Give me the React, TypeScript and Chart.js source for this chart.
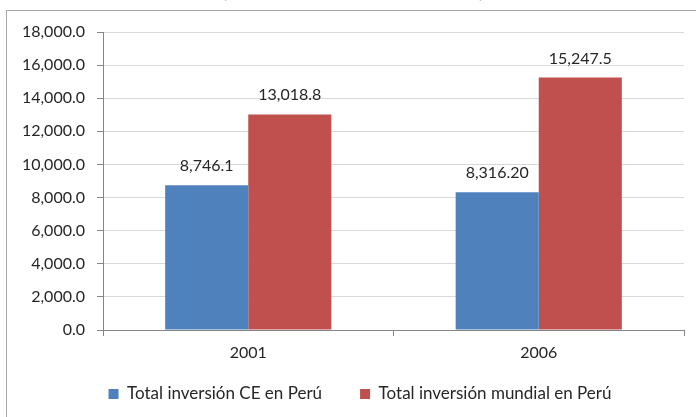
import React, { useEffect, useRef } from "react";
import { Chart, registerables } from "chart.js";

Chart.register(...registerables);

const categories = ["2001", "2006"];
const seriesNames = ["Total inversión CE en Perú", "Total inversión mundial en Perú"];
const ceValues = [8746.1, 8316.2];
const worldValues = [13018.8, 15247.5];
const ceLabels = ["8,746.1", "8,316.20"];
const worldLabels = ["13,018.8", "15,247.5"];
const yMin = 0;
const yMax = 18000;
const yStep = 2000;

const FONT = "Lato";
const TEXT = "#262626";
const LEGEND_PAD = 38;
const LEGEND_FONT = 17;

const valueLabelPlugin = {
  id: "valueLabels",
  afterDatasetsDraw(chart: any) {
    const ctx = chart.ctx;
    const all = [ceLabels, worldLabels];
    ctx.save();
    ctx.font = `16px ${FONT}`;
    ctx.fillStyle = TEXT;
    ctx.textAlign = "center";
    ctx.textBaseline = "alphabetic";
    chart.data.datasets.forEach((_d: any, di: number) => {
      const meta = chart.getDatasetMeta(di);
      meta.data.forEach((bar: any, i: number) => {
        ctx.fillText(all[di][i], bar.x, bar.y - 14);
      });
    });
    ctx.restore();
  },
};

// Place the legend like the original Excel chart (centred on the full, wider chart box).
const legendPlacePlugin = {
  id: "legendPlace",
  afterLayout(chart: any) {
    const lg = chart.legend;
    if (!lg) return;
    const dx = 18;
    const dy = 385.5 - LEGEND_PAD - lg.top;
    lg.left += dx;
    lg.right += dx;
    lg.top += dy;
    lg.bottom += dy;
  },
};

export default function App() {
  const ref = useRef<HTMLCanvasElement>(null);
  useEffect(() => {
    if (!ref.current) return;
    const chart = new Chart(ref.current, {
      type: "bar",
      data: {
        labels: categories,
        datasets: [
          { label: seriesNames[0], data: ceValues, backgroundColor: "#4F81BD", borderWidth: 0 },
          { label: seriesNames[1], data: worldValues, backgroundColor: "#C0504D", borderWidth: 0 },
        ],
      },
      options: {
        animation: false,
        responsive: false,
        maintainAspectRatio: false,
        devicePixelRatio: 1,
        layout: { padding: { left: 0, right: 12, top: 32, bottom: -12 } },
        datasets: { bar: { categoryPercentage: 0.572, barPercentage: 1 } },
        plugins: {
          legend: {
            position: "bottom",
            labels: {
              boxWidth: 10,
              boxHeight: 10,
              padding: LEGEND_PAD,
              color: TEXT,
              font: { family: FONT, size: LEGEND_FONT },
            },
          },
          tooltip: { enabled: false },
          title: { display: false },
        },
        scales: {
          x: {
            offset: true,
            grid: {
              display: true,
              drawOnChartArea: false,
              offset: true,
              tickLength: 6,
              color: "#868686",
              tickColor: "#868686",
            },
            border: { color: "#868686", width: 1 },
            ticks: { color: TEXT, font: { family: FONT, size: 16 }, padding: 7 },
            afterFit: (s: any) => {
              s.height = 34;
            },
          },
          y: {
            min: yMin,
            max: yMax,
            ticks: {
              stepSize: yStep,
              color: TEXT,
              font: { family: FONT, size: 16 },
              padding: 12,
              callback: (v: any) =>
                Number(v).toLocaleString("en-US", { minimumFractionDigits: 1, maximumFractionDigits: 1 }),
            },
            grid: { color: "#d9d9d9", tickColor: "#868686", tickLength: 6 },
            border: { color: "#868686", width: 1 },
            afterFit: (s: any) => {
              s.width = 103;
            },
          },
        },
      },
      plugins: [valueLabelPlugin, legendPlacePlugin],
    });
    return () => chart.destroy();
  }, []);

  return (
    <div
      style={{
        position: "fixed",
        left: 0,
        top: 0,
        width: 696,
        height: 417,
        overflow: "hidden",
        background: "#fff",
      }}
    >
      <div
        style={{
          position: "absolute",
          left: 6,
          top: 10,
          width: 760,
          height: 460,
          border: "1px solid #a6a6a6",
          boxSizing: "border-box",
        }}
      />
      <div
        style={{
          position: "absolute",
          left: 222,
          top: -19,
          font: `18px ${FONT}`,
          color: TEXT,
          lineHeight: "20px",
        }}
      >
        (
      </div>
      <div
        style={{
          position: "absolute",
          left: 479,
          top: -19,
          font: `18px ${FONT}`,
          color: TEXT,
          lineHeight: "20px",
        }}
      >
        )
      </div>
      <canvas ref={ref} width={696} height={417} style={{ position: "absolute", left: 0, top: 0 }} />
    </div>
  );
}
